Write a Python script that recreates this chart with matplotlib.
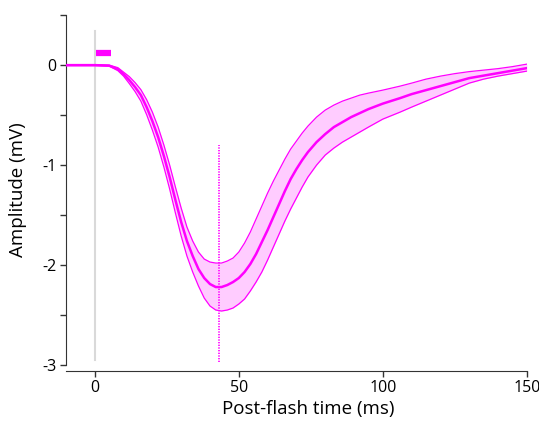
import matplotlib
matplotlib.use('Agg')
import matplotlib.pyplot as plt
import numpy as np

plt.rcParams['font.family'] = ['Open Sans', 'DejaVu Sans']
plt.rcParams['axes.unicode_minus'] = False

# mean ERG trace (mV) with upper / lower edges of the error band
t_ms = [-10, 0, 5, 8, 10, 12, 14, 16, 18, 20, 22, 24, 26, 28, 30, 32, 34, 36, 38, 40,
        42, 44, 46, 48, 50, 52, 54, 56, 58, 60, 62, 64, 66, 68, 70, 72, 74, 77, 80, 83,
        86, 89, 92, 95, 100, 106, 110, 115, 120, 125, 130, 135, 140, 145, 150]
amp_mean = [0, 0, -0.005, -0.04, -0.09, -0.15, -0.22, -0.3, -0.42, -0.56, -0.72, -0.91,
            -1.12, -1.35, -1.57, -1.76, -1.91, -2.04, -2.13, -2.19, -2.22, -2.22, -2.2, -2.17,
            -2.13, -2.07, -1.99, -1.89, -1.77, -1.65, -1.52, -1.39, -1.26, -1.14, -1.04, -0.95,
            -0.87, -0.77, -0.69, -0.62, -0.57, -0.52, -0.48, -0.44, -0.385, -0.33, -0.29,
            -0.25, -0.21, -0.17, -0.13, -0.105, -0.08, -0.055, -0.03]
amp_upper = [0.005, 0.005, 0.0, -0.025, -0.07, -0.115, -0.175, -0.245, -0.345, -0.47, -0.62,
             -0.8, -1.0, -1.22, -1.43, -1.62, -1.76, -1.87, -1.94, -1.97, -1.98, -1.98,
             -1.96, -1.93, -1.87, -1.78, -1.67, -1.54, -1.41, -1.28, -1.16, -1.05, -0.94,
             -0.84, -0.76, -0.68, -0.61, -0.52, -0.45, -0.4, -0.36, -0.33, -0.3, -0.28, -0.25,
             -0.21, -0.18, -0.14, -0.11, -0.085, -0.065, -0.05, -0.035, -0.015, 0.01]
amp_lower = [-0.005, -0.005, -0.01, -0.055, -0.11, -0.185, -0.265, -0.36, -0.495, -0.65,
             -0.82, -1.02, -1.24, -1.48, -1.71, -1.91, -2.07, -2.21, -2.33, -2.41, -2.45,
             -2.46, -2.45, -2.43, -2.39, -2.34, -2.26, -2.17, -2.07, -1.95, -1.82, -1.69,
             -1.56, -1.44, -1.33, -1.22, -1.12, -1.0, -0.9, -0.83, -0.77, -0.72, -0.67,
             -0.62, -0.54, -0.47, -0.42, -0.36, -0.3, -0.24, -0.18, -0.14, -0.11, -0.085,
             -0.06]

flash_on, flash_off = 0.5, 5.5   # stimulus bar (ms)
peak_time = 43                   # trough marker (ms)

x_ticks = [0, 50, 100, 150]
y_ticks = [-3, -2, -1, 0]

col = '#ff00ff'

fig = plt.figure(figsize=(5.39, 4.21), dpi=100)
ax = fig.add_axes([0.1224, 0.133, 0.855, 0.831])

ax.plot([0, 0], [-2.95, 0.34], color='#d9d9d9', lw=1.5, zorder=1)
ax.fill_between(t_ms, amp_lower, amp_upper, color='#ffccff', lw=0, zorder=2)
ax.plot(t_ms, amp_upper, color=col, lw=0.9, zorder=3)
ax.plot(t_ms, amp_lower, color=col, lw=0.9, zorder=3)
ax.plot(t_ms, amp_mean, color=col, lw=1.8, zorder=4)
ax.plot([peak_time, peak_time], [-2.97, -0.8], color=col, lw=1.2, ls=(0, (0.8, 0.8)), zorder=5)
ax.plot([flash_on, flash_off], [0.12, 0.12], color=col, lw=4.5, solid_capstyle='butt')

ax.set_xlim(-10, 150)
ax.set_ylim(-3, 0.5)
ax.set_xticks(x_ticks)
ax.set_yticks(y_ticks)
ax.set_yticks([-2.5, -1.5, -0.5, 0.5], minor=True)
ax.tick_params(which='both', direction='out', length=4, width=1, color='#333333', labelsize=11.5, pad=3)
for sp in ['top', 'right']:
    ax.spines[sp].set_visible(False)
for sp in ['left', 'bottom']:
    ax.spines[sp].set_color('#333333')
ax.spines['bottom'].set_position(('outward', 4))
ax.spines['left'].set_bounds(-3, 0.5)

ax.set_xlabel('Post-flash time (ms)', fontsize=13.5)
ax.set_ylabel('Amplitude (mV)', fontsize=13.5)
ax.xaxis.set_label_coords(0.526, -0.1)
ax.yaxis.set_label_coords(-0.085, 0.5)

fig.savefig('out.png', dpi=100)
